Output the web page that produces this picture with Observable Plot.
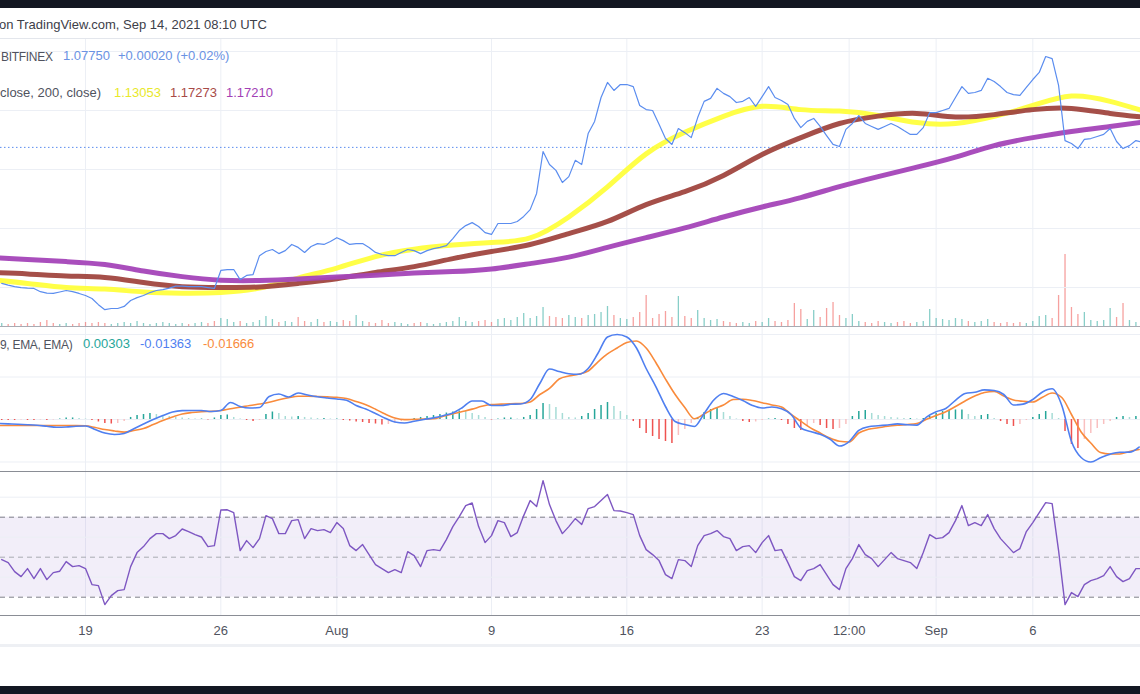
<!DOCTYPE html>
<html>
<head>
<meta charset="utf-8">
<script src="https://cdn.jsdelivr.net/npm/d3@7"></script>
<script src="https://cdn.jsdelivr.net/npm/@observablehq/plot@0.6"></script>
<style>
  html, body { margin: 0; padding: 0; background: #ffffff; }
  #root { position: relative; width: 1140px; height: 694px; overflow: hidden; background: #ffffff;
          font-family: "Liberation Sans", Arial, sans-serif; font-size: 13px; color: #50535e; }
  .abs { position: absolute; }
  .pane { position: absolute; left: 0; }
  .pane svg { display: block; }
  .txt { position: absolute; white-space: nowrap; line-height: 16px; }
  .hline { position: absolute; left: 0; width: 1140px; height: 1px; }
</style>
</head>
<body>
<div id="root"></div>
<script>
// ---------------- DATA ----------------
const xDomain = [new Date("2021-07-14T14:28Z"), new Date("2021-09-11T13:42Z")];

// 8-hour bars
const barStart = "2021-07-14T16:00Z";
const barHours = 8;
const close = [
  1.0314,1.0308,1.0303,1.0300,1.0298,1.0297,1.0286,1.0281,1.0280,1.0285,
  1.0290,1.0286,1.0280,1.0273,1.0263,1.0242,1.0225,1.0229,1.0229,1.0236,
  1.0256,1.0266,1.0273,1.0283,1.0290,1.0293,1.0298,1.0305,1.0305,1.0303,
  1.0303,1.0303,1.0300,1.0297,1.0358,1.0361,1.0361,1.0327,1.0341,1.0344,
  1.0408,1.0422,1.0429,1.0415,1.0425,1.0446,1.0436,1.0419,1.0439,1.0449,
  1.0446,1.0456,1.0469,1.0459,1.0446,1.0449,1.0449,1.0436,1.0419,1.0412,
  1.0408,1.0408,1.0419,1.0429,1.0425,1.0415,1.0425,1.0432,1.0436,1.0442,
  1.0466,1.0493,1.0510,1.0520,1.0507,1.0486,1.0480,1.0517,1.0517,1.0517,
  1.0524,1.0541,1.0564,1.0619,1.0761,1.0717,1.0697,1.0656,1.0676,1.0731,
  1.0717,1.0822,1.0863,1.0944,1.0995,1.0968,1.0988,1.0988,1.0981,1.0917,
  1.0903,1.0900,1.0853,1.0805,1.0785,1.0839,1.0825,1.0808,1.0876,1.0931,
  1.0941,1.0975,1.0958,1.0947,1.0927,1.0931,1.0944,1.0914,1.0947,1.0981,
  1.0944,1.0934,1.0920,1.0873,1.0842,1.0863,1.0873,1.0846,1.0815,1.0785,
  1.0778,1.0836,1.0856,1.0883,1.0856,1.0846,1.0836,1.0846,1.0856,1.0846,
  1.0832,1.0819,1.0819,1.0842,1.0893,1.0893,1.0900,1.0907,1.0944,1.0981,
  1.0958,1.0961,1.0968,1.1009,1.0998,1.0981,1.0961,1.0954,1.0951,1.0978,
  1.1005,1.1029,1.1083,1.1076,1.0985,1.0798,1.0788,1.0771,1.0802,1.0805,
  1.0812,1.0819,1.0839,1.0795,1.0771,1.0781,1.0798,1.0792
];
const volume = [
  300,200,300,200,300,200,400,600,300,200,
  300,200,300,400,300,400,300,200,300,400,
  300,500,300,200,300,400,300,200,300,200,
  300,400,300,500,800,700,400,500,300,400,
  600,1000,700,400,500,400,900,500,400,700,
  400,500,400,600,500,1100,500,400,300,600,
  300,400,300,200,300,400,300,200,300,400,
  500,900,500,400,500,600,400,700,800,600,
  900,1300,800,1000,1900,1000,900,800,1100,900,
  800,1100,1200,1400,2000,1100,800,700,900,1400,
  3100,800,1200,1500,900,3000,1000,800,1600,800,
  600,700,500,400,300,400,300,500,400,800,
  500,400,600,2300,1700,700,1600,900,1800,2400,
  1100,800,1200,500,400,300,500,400,300,400,
  500,300,400,500,1700,800,700,600,800,700,
  500,400,500,700,400,300,400,300,400,300,
  500,1000,1100,800,3100,7200,1900,1200,1400,600,
  500,600,1800,900,2300,600,400,500
];
const macdHist = [
  -0.00012,-0.00012,-0.00012,-0.00006,-0.00012,-0.00012,-0.00006,-0.00012,-0.00006,0.00006,
  0.00018,0.00018,0.00012,0.00006,-0.00012,-0.00029,-0.00047,-0.00053,-0.00047,-0.00024,
  0.00024,0.00047,0.00059,0.00071,0.00059,0.00047,0.00035,0.00024,0.00018,0.00012,
  0.00006,0.00006,-0.00006,0.00018,0.00047,0.00053,0.00024,0.00006,-0.00012,-0.00024,
  -0.00012,0.00059,0.00088,0.00071,0.00035,0.00029,0.00035,0.00024,0.00018,0.00012,
  0.00012,0.00006,0.00006,-0.00012,-0.00018,-0.00029,-0.00035,-0.00047,-0.00053,-0.00065,
  -0.00059,-0.00041,-0.00024,-0.00012,0.00012,0.00024,0.00035,0.00047,0.00059,0.00076,
  0.00088,0.00100,0.00094,0.00071,0.00047,0.00024,-0.00006,0.00006,0.00018,0.00018,
  0.00006,0.00024,0.00047,0.00118,0.00188,0.00176,0.00141,0.00071,0.00024,0.00018,
  0.00035,0.00071,0.00118,0.00165,0.00200,0.00153,0.00094,0.00047,-0.00024,-0.00106,
  -0.00165,-0.00200,-0.00235,-0.00259,-0.00282,-0.00188,-0.00118,-0.00047,0.00024,0.00082,
  0.00118,0.00129,0.00082,0.00035,0.00006,-0.00024,-0.00035,-0.00029,-0.00012,0.00006,
  0.00012,-0.00012,-0.00059,-0.00106,-0.00129,-0.00082,-0.00047,-0.00071,-0.00106,-0.00118,
  -0.00106,-0.00059,0.00035,0.00094,0.00106,0.00071,0.00047,0.00035,0.00024,0.00018,
  0.00012,0.00012,0.00006,0.00012,0.00035,0.00071,0.00094,0.00106,0.00112,0.00112,
  0.00059,0.00035,0.00047,0.00059,0.00012,-0.00024,-0.00059,-0.00082,-0.00059,-0.00012,
  0.00024,0.00059,0.00094,0.00071,0.00012,-0.00141,-0.00294,-0.00341,-0.00235,-0.00165,
  -0.00106,-0.00059,-0.00024,0.00024,0.00035,0.00024,0.00035,0.00047
];
const rsi = [
  48.8,47.3,42.8,40.3,44.3,39.3,44.3,38.8,42.3,43.0,
  47.8,45.3,45.8,44.3,36.3,35.8,26.3,30.8,33.3,33.8,
  45.3,52.3,55.3,59.3,61.8,61.8,59.3,60.8,64.1,62.8,
  61.3,60.1,55.3,55.8,73.6,73.7,72.3,53.3,58.3,54.8,
  59.3,70.8,69.3,61.8,61.8,68.3,68.8,59.3,64.3,63.3,
  63.8,62.3,67.3,64.3,55.8,53.3,56.3,51.3,46.3,44.3,
  42.3,43.8,42.3,52.8,50.8,45.3,53.3,53.8,53.3,58.8,
  65.3,70.3,75.8,77.1,65.3,57.3,60.8,68.3,67.3,60.3,
  62.3,70.8,78.3,75.3,88.3,76.3,68.3,61.8,65.3,69.3,
  66.3,74.3,75.3,78.3,81.3,73.3,73.1,72.3,71.3,60.8,
  53.8,51.3,48.3,41.3,39.3,48.8,48.3,45.3,55.8,60.8,
  61.8,63.3,60.3,59.3,53.3,55.3,55.8,52.3,57.3,60.8,
  53.3,53.8,47.3,40.3,38.3,43.3,44.3,46.3,41.3,36.3,
  33.8,44.3,49.3,56.3,51.3,49.3,45.3,48.8,52.3,49.3,
  48.3,47.3,44.3,52.3,61.3,59.3,59.8,62.3,68.3,75.8,
  65.8,67.3,65.8,71.3,64.3,59.3,55.8,52.3,54.3,62.8,
  67.3,72.3,77.3,76.8,53.3,26.3,32.3,30.3,36.3,38.3,
  39.3,40.8,45.3,40.3,37.8,39.3,44.3,44.3
];

// 12-hour MACD lines
const macdStart = "2021-07-14T12:00Z";
const macdHours = 12;
const macdLine = [
  -0.00047,-0.00052,-0.00056,-0.00061,-0.00068,-0.00080,-0.00091,-0.00088,-0.00079,-0.00076,
  -0.00118,-0.00159,-0.00176,-0.00165,-0.00108,-0.00053,0.00000,0.00047,0.00088,0.00104,
  0.00106,0.00106,0.00094,0.00106,0.00200,0.00153,0.00135,0.00141,0.00271,0.00300,
  0.00265,0.00312,0.00288,0.00267,0.00253,0.00241,0.00226,0.00165,0.00124,0.00071,
  0.00015,-0.00029,-0.00041,-0.00020,0.00000,0.00019,0.00045,0.00076,0.00141,0.00218,
  0.00218,0.00165,0.00165,0.00179,0.00182,0.00235,0.00424,0.00594,0.00565,0.00539,
  0.00532,0.00600,0.00776,0.00971,0.01000,0.00971,0.00841,0.00600,0.00388,0.00153,
  -0.00024,-0.00059,-0.00082,0.00071,0.00229,0.00306,0.00271,0.00224,0.00165,0.00135,
  0.00147,0.00126,0.00059,-0.00100,-0.00141,-0.00174,-0.00229,-0.00312,-0.00259,-0.00129,
  -0.00085,-0.00074,-0.00064,-0.00052,-0.00062,-0.00066,0.00029,0.00092,0.00129,0.00226,
  0.00306,0.00321,0.00348,0.00341,0.00294,0.00171,0.00181,0.00235,0.00324,0.00361,
  0.00165,-0.00259,-0.00447,-0.00500,-0.00451,-0.00408,-0.00385,-0.00384,-0.00324
];
const signalLine = [
  -0.00071,-0.00071,-0.00071,-0.00071,-0.00071,-0.00071,-0.00071,-0.00071,-0.00071,-0.00074,
  -0.00094,-0.00118,-0.00135,-0.00149,-0.00129,-0.00106,-0.00059,-0.00012,0.00029,0.00065,
  0.00082,0.00091,0.00096,0.00106,0.00126,0.00144,0.00165,0.00182,0.00202,0.00232,
  0.00255,0.00273,0.00274,0.00271,0.00266,0.00260,0.00247,0.00212,0.00173,0.00121,
  0.00064,0.00018,-0.00002,0.00002,0.00006,0.00008,0.00039,0.00067,0.00094,0.00122,
  0.00155,0.00176,0.00181,0.00186,0.00188,0.00206,0.00294,0.00365,0.00476,0.00512,
  0.00532,0.00571,0.00676,0.00771,0.00841,0.00906,0.00924,0.00841,0.00671,0.00476,
  0.00294,0.00141,0.00008,0.00065,0.00126,0.00171,0.00235,0.00239,0.00224,0.00198,
  0.00171,0.00148,0.00059,-0.00020,-0.00098,-0.00159,-0.00218,-0.00256,-0.00265,-0.00159,
  -0.00115,-0.00098,-0.00080,-0.00068,-0.00059,-0.00047,0.00002,0.00047,0.00092,0.00153,
  0.00218,0.00276,0.00318,0.00329,0.00276,0.00229,0.00214,0.00206,0.00262,0.00312,
  0.00259,0.00059,-0.00147,-0.00276,-0.00388,-0.00406,-0.00406,-0.00376,-0.00353
];

// 48-hour moving averages (smooth)
const maStart = "2021-07-14T00:00Z";
const maHours = 48;
const maFast = [1.0327,1.0314,1.0300,1.0295,1.0285,1.0281,1.0283,1.0298,1.0332,1.0366,1.0405,1.0430,1.0444,1.0453,1.0468,1.0539,1.0641,1.0753,1.0826,1.0880,1.0914,1.0903,1.0898,1.0883,1.0859,1.0856,1.0880,1.0917,1.0949,1.0931,1.0893];
const maMid  = [1.0351,1.0346,1.0339,1.0334,1.0317,1.0303,1.0300,1.0302,1.0314,1.0330,1.0351,1.0371,1.0398,1.0422,1.0446,1.0483,1.0524,1.0581,1.0625,1.0680,1.0751,1.0808,1.0856,1.0881,1.0890,1.0878,1.0886,1.0903,1.0907,1.0890,1.0876];
const maSlow = [1.0402,1.0395,1.0388,1.0378,1.0356,1.0337,1.0325,1.0324,1.0329,1.0336,1.0342,1.0349,1.0354,1.0363,1.0381,1.0403,1.0436,1.0469,1.0502,1.0539,1.0573,1.0605,1.0642,1.0676,1.0708,1.0742,1.0781,1.0808,1.0829,1.0846,1.0863];

const lastPrice = 1.0775;
const priceGrid = [1.03, 1.05, 1.07, 1.09, 1.11];
const macdGrid = [-0.005, 0, 0.005, 0.01];
const rsiGrid = [40, 60, 80];
const rsiLevels = [30, 50, 70];

const tickDates = ["2021-07-19T00:00Z","2021-07-26T00:00Z","2021-08-01T00:00Z","2021-08-09T00:00Z","2021-08-16T00:00Z","2021-08-23T00:00Z","2021-08-27T12:00Z","2021-09-01T00:00Z","2021-09-06T00:00Z"];
const tickLabels = ["19","26","Aug","9","16","23","12:00","Sep","6"];

const headerText = "on TradingView.com, Sep 14, 2021 08:10 UTC";
const symbolLegend = ["BITFINEX", "1.07750", "+0.00020 (+0.02%)"];
const maLegend = ["close, 200, close)", "1.13053", "1.17273", "1.17210"];
const macdLegend = ["9, EMA, EMA)", "0.00303", "-0.01363", "-0.01666"];

// ---------------- BUILD ----------------
const timeAxis = (start, hours, n) => d3.range(n).map(i => new Date(Date.parse(start) + i * hours * 3600e3));
const barTimes = timeAxis(barStart, barHours, close.length);
const bars = barTimes.map((t, i) => {
  const h = macdHist[i], hp = i > 0 ? macdHist[i - 1] : 0;
  let hc;
  if (h >= 0) hc = h >= hp ? "#26a69a" : "#a6dcd6";
  else hc = h <= hp ? "#ef5350" : "#f9c0c0";
  return { t, close: close[i], volume: volume[i], hist: h, rsi: rsi[i],
           vcol: (i === 0 || close[i] >= close[i - 1]) ? "#26a69a" : "#ef5350", hcol: hc };
});
const macdRows = timeAxis(macdStart, macdHours, macdLine.length).map((t, i) => ({ t, macd: macdLine[i], signal: signalLine[i] }));
const maRows = timeAxis(maStart, maHours, maFast.length).map((t, i) => ({ t, fast: maFast[i], mid: maMid[i], slow: maSlow[i] }));
const ticks = tickDates.map((d, i) => ({ t: new Date(d), label: tickLabels[i] }));
const tickTimes = ticks.map(d => d.t);

const GRID = "#eceff5";
const FONT = "'Liberation Sans', Arial, sans-serif";
const base = (h, extra = {}) => Object.assign({
  width: 1140, height: h, marginTop: 0, marginRight: 0, marginBottom: 0, marginLeft: 0,
  x: { type: "utc", domain: xDomain, axis: null },
  style: { background: "transparent", fontFamily: FONT, fontSize: "13px", overflow: "visible" }
}, extra);

const root = document.getElementById("root");
function place(node, top) {
  const w = document.createElement("div");
  w.className = "pane";
  w.style.top = top + "px";
  w.appendChild(node);
  root.appendChild(w);
  return w;
}
function hline(top, color, h = 1) {
  const d = document.createElement("div");
  d.className = "hline"; d.style.top = top + "px"; d.style.background = color; d.style.height = h + "px";
  root.appendChild(d);
}
function text(str, left, top, color, extra = {}) {
  const d = document.createElement("div");
  d.className = "txt"; d.textContent = str;
  d.style.left = left + "px"; d.style.top = top + "px"; d.style.color = color;
  Object.assign(d.style, extra);
  root.appendChild(d);
}

// top / bottom dark bands
const topBand = document.createElement("div");
topBand.className = "abs"; Object.assign(topBand.style, { left: "0", top: "0", width: "1140px", height: "8px", background: "#131722" });
root.appendChild(topBand);
const botBand = document.createElement("div");
botBand.className = "abs"; Object.assign(botBand.style, { left: "0", top: "686px", width: "1140px", height: "8px", background: "#131722" });
root.appendChild(botBand);

// ---- price pane (38..326) ----
const priceY = { domain: [1.0168, 1.1144], range: [288, 0], axis: null };

// volume layer (beneath)
place(Plot.plot(base(288, {
  y: { domain: [0, 28800], range: [288, 0], axis: null },
  marks: [
    Plot.ruleX(tickTimes, { stroke: GRID }),
    Plot.ruleX(bars, { x: "t", y1: 0, y2: "volume", stroke: "vcol", strokeOpacity: 0.55, strokeWidth: 1.3 })
  ]
})), 38);

place(Plot.plot(base(288, {
  y: priceY,
  marks: [
    Plot.ruleY(priceGrid, { stroke: GRID }),
    Plot.ruleY([lastPrice], { stroke: "#5b8def", strokeDasharray: "1.5,2.5", strokeWidth: 1 }),
    Plot.line(maRows, { x: "t", y: "fast", stroke: "#ffff33", strokeOpacity: 0.9, strokeWidth: 5, curve: "natural", clip: true }),
    Plot.line(maRows, { x: "t", y: "mid", stroke: "#a0463f", strokeOpacity: 0.95, strokeWidth: 5, curve: "natural", clip: true }),
    Plot.line(maRows, { x: "t", y: "slow", stroke: "#a444b8", strokeOpacity: 0.95, strokeWidth: 5, curve: "natural", clip: true }),
    Plot.line(bars, { x: "t", y: "close", stroke: "#5b8def", strokeWidth: 1.2, clip: true })
  ]
})), 38);

// ---- MACD pane (327..471) ----
place(Plot.plot(base(144, {
  y: { domain: [-0.006118, 0.010824], range: [144, 0], axis: null },
  marks: [
    Plot.ruleX(tickTimes, { stroke: GRID }),
    Plot.ruleY(macdGrid, { stroke: GRID }),
    Plot.ruleX(bars, { x: "t", y1: 0, y2: "hist", stroke: "hcol", strokeWidth: 1.5 }),
    Plot.line(macdRows, { x: "t", y: "signal", stroke: "#f98b3c", strokeWidth: 1.6, curve: "monotone-x", clip: true }),
    Plot.line(macdRows, { x: "t", y: "macd", stroke: "#4f7ff0", strokeWidth: 1.6, curve: "monotone-x", clip: true })
  ]
})), 327);

// ---- RSI pane (472..615) + time axis ----
place(Plot.plot(base(174, {
  marginBottom: 31,
  y: { domain: [20.85, 92.35], axis: null },
  marks: [
    Plot.ruleX(tickTimes, { stroke: GRID }),
    Plot.rect([{ x1: xDomain[0], x2: xDomain[1], y1: rsiLevels[0], y2: rsiLevels[2] }],
      { x1: "x1", x2: "x2", y1: "y1", y2: "y2", fill: "#7e57c2", fillOpacity: 0.1 }),
    Plot.ruleY(rsiGrid, { stroke: GRID }),
    Plot.ruleY([rsiLevels[0], rsiLevels[2]], { stroke: "#7d7f88", strokeDasharray: "5,4" }),
    Plot.ruleY([rsiLevels[1]], { stroke: "#a9abb2", strokeDasharray: "5,4" }),
    Plot.line(bars, { x: "t", y: "rsi", stroke: "#7e57c2", strokeWidth: 1.4, clip: true }),
    Plot.text(ticks, { x: "t", text: "label", frameAnchor: "bottom", dy: 15, lineAnchor: "middle",
                       fill: "#50535e", fontSize: 13 })
  ]
})), 472);

// separators
hline(38, "#e3e6ec");
hline(326, "#a8abb3");
hline(471, "#8a8d95");
hline(615, "#8a8d95");
hline(644, "#eef0f4", 3);

// texts
const capsStyle = { fontSize: "12px", letterSpacing: "-0.3px" };
text(headerText, -1, 17, "#3d4049");
text(symbolLegend[0], 1, 49, "#50535e", capsStyle);
text(symbolLegend[1], 63, 48, "#6a92e3");
text(symbolLegend[2], 118, 48, "#6a92e3");
text(maLegend[0], 0, 85, "#50535e");
text(maLegend[1], 114, 85, "#e8e82a");
text(maLegend[2], 170, 85, "#a84a47");
text(maLegend[3], 226, 85, "#a23fb5");
text(macdLegend[0], 0, 337, "#50535e", capsStyle);
text(macdLegend[1], 83, 336, "#26a69a");
text(macdLegend[2], 140, 336, "#4f7ff0");
text(macdLegend[3], 203, 336, "#f98b3c");
</script>
</body>
</html>
